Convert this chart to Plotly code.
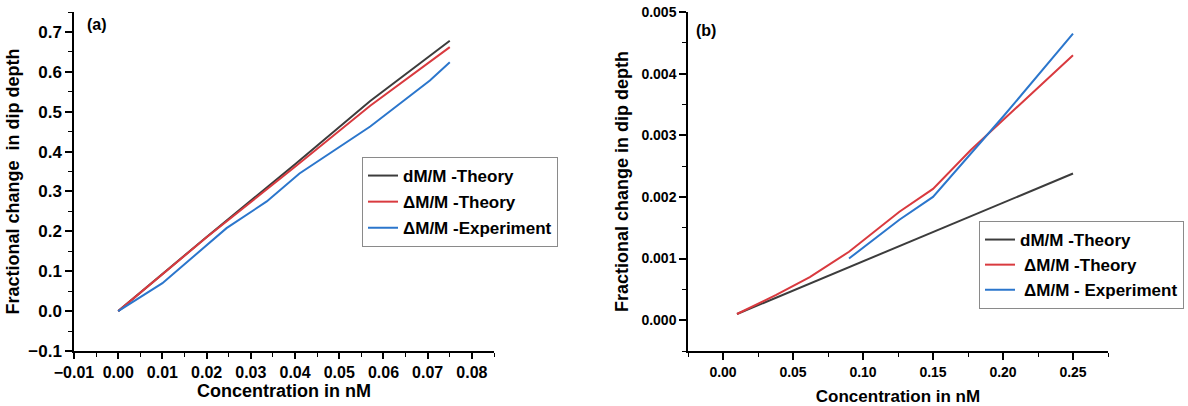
import plotly.graph_objects as go

# ---------- Panel (a) data ----------
a_x_dm = [0, 0.02, 0.04, 0.057, 0.075]
a_dm_theory = [0, 0.186, 0.368, 0.527, 0.678]
a_x_DM = [0, 0.02, 0.04, 0.057, 0.075]
a_DM_theory = [0, 0.185, 0.362, 0.515, 0.662]
a_x_exp = [0, 0.01, 0.0245, 0.0336, 0.041, 0.057, 0.0705, 0.075]
a_DM_exp = [0, 0.07, 0.208, 0.275, 0.345, 0.463, 0.578, 0.624]

# ---------- Panel (b) data ----------
b_x_dm = [0.01, 0.25]
b_dm_theory = [0.0001, 0.00238]
b_x_DM = [0.01, 0.038, 0.062, 0.09, 0.126, 0.15, 0.177, 0.25]
b_DM_theory = [0.0001, 0.00041, 0.0007, 0.00111, 0.00176, 0.00213, 0.00276, 0.0043]
b_x_exp = [0.09, 0.126, 0.15, 0.2, 0.25]
b_DM_exp = [0.001, 0.00163, 0.002, 0.0033, 0.00465]

names_a = ["dM/M -Theory", "\u0394M/M -Theory", "\u0394M/M -Experiment"]
names_b = ["dM/M -Theory", " \u0394M/M -Theory", " \u0394M/M - Experiment"]
x_title = "Concentration in nM"
y_title_a = "Fractional change  in dip depth"
y_title_b = "Fractional change in dip depth"

BLACK = "#3c3c3c"
RED = "#d93a3f"
BLUE = "#2b76cc"
FONT = "Liberation Sans, Arial, sans-serif"

fig = go.Figure()

series_a = [(a_x_dm, a_dm_theory, BLACK), (a_x_DM, a_DM_theory, RED), (a_x_exp, a_DM_exp, BLUE)]
for i, (xs, ys, c) in enumerate(series_a):
    fig.add_trace(go.Scatter(x=xs, y=ys, mode="lines", name=names_a[i],
                             line=dict(color=c, width=2), xaxis="x", yaxis="y",
                             legend="legend", legendgroup="a%d" % i))

series_b = [(b_x_dm, b_dm_theory, BLACK), (b_x_DM, b_DM_theory, RED), (b_x_exp, b_DM_exp, BLUE)]
for i, (xs, ys, c) in enumerate(series_b):
    fig.add_trace(go.Scatter(x=xs, y=ys, mode="lines", name=names_b[i],
                             line=dict(color=c, width=2), xaxis="x2", yaxis="y2",
                             legend="legend2", legendgroup="b%d" % i))

def bold(size):
    return dict(family=FONT, size=size, color="black", weight="bold")

def axis_common(fs, tl=7):
    return dict(showline=True, linecolor="black", linewidth=1.5, showgrid=False,
                zeroline=False, ticks="outside", ticklen=tl, tickwidth=1.5,
                tickcolor="black", tickfont=bold(fs), automargin=False)

def minor(dt):
    return dict(ticks="outside", ticklen=4, tickwidth=1.2, tickcolor="black", dtick=dt, tick0=0)

xa = axis_common(16, tl=6)
xa.update(domain=[74 / 1188, 494 / 1188], range=[-0.01, 0.085], tick0=-0.01, dtick=0.01,
          tickformat=".2f", anchor="y", minor=minor(0.005))
ya = axis_common(17)
ya.update(domain=[55 / 406, 394 / 406], range=[-0.1, 0.75], tick0=0, dtick=0.1,
          tickformat=".1f", anchor="x", minor=minor(0.05),
          title=dict(text=y_title_a, standoff=4, font=bold(18)))
xb = axis_common(14)
xb.update(domain=[688 / 1188, 1108 / 1188], range=[-0.025, 0.275], tick0=0, dtick=0.05,
          tickformat=".2f", anchor="y2", minor=minor(0.025),
          title=dict(text=x_title, standoff=12, font=bold(17)))
yb = axis_common(14)
yb.update(domain=[55 / 406, 394 / 406], range=[-0.0005, 0.005], tick0=0, dtick=0.001,
          tickformat=".3f", anchor="x2", minor=minor(0.0005),
          title=dict(text=y_title_b, standoff=8, font=bold(18)))

fig.update_layout(
    width=1188, height=406,
    margin=dict(l=0, r=0, t=0, b=0),
    paper_bgcolor="white", plot_bgcolor="white",
    font=dict(family=FONT, color="black"),
    xaxis=xa, yaxis=ya, xaxis2=xb, yaxis2=yb,
    legend=dict(x=362 / 1188, y=1 - 157 / 406, xanchor="left", yanchor="top",
                xref="paper", yref="paper", bgcolor="white",
                bordercolor="#8a8a8a", borderwidth=1, traceorder="grouped",
                tracegroupgap=1, font=bold(17)),
    legend2=dict(x=979 / 1188, y=1 - 221 / 406, xanchor="left", yanchor="top",
                 xref="paper", yref="paper", bgcolor="white",
                 bordercolor="#8a8a8a", borderwidth=1, traceorder="grouped",
                 tracegroupgap=0, font=bold(17)),
    annotations=[
        dict(text=x_title, x=284 / 1188, y=1 - 391 / 406, xref="paper", yref="paper",
             xanchor="center", yanchor="middle", showarrow=False, font=bold(18)),
        dict(text="(a)", x=97 / 1188, y=1 - 25 / 406, xref="paper", yref="paper",
             xanchor="center", yanchor="middle", showarrow=False, font=bold(16)),
        dict(text="(b)", x=706 / 1188, y=1 - 31 / 406, xref="paper", yref="paper",
             xanchor="center", yanchor="middle", showarrow=False, font=bold(16)),
    ],
)

fig.write_html("out.html")
